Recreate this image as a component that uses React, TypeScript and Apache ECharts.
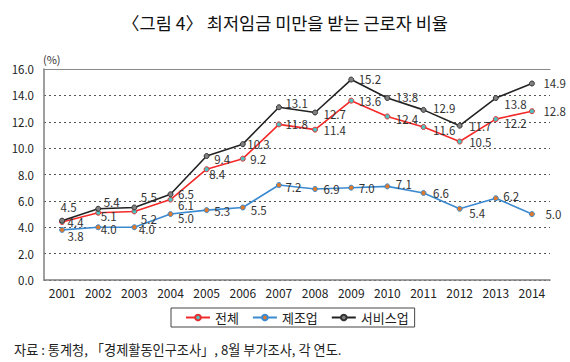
import React, { useEffect, useRef } from "react";
import * as echarts from "echarts";

const years = ["2001","2002","2003","2004","2005","2006","2007","2008","2009","2010","2011","2012","2013","2014"];
const total = [4.4, 5.1, 5.2, 6.1, 8.4, 9.2, 11.8, 11.4, 13.6, 12.4, 11.6, 10.5, 12.2, 12.8];
const manufacturing = [3.8, 4.0, 4.0, 5.0, 5.3, 5.5, 7.2, 6.9, 7.0, 7.1, 6.6, 5.4, 6.2, 5.0];
const service = [4.5, 5.4, 5.5, 6.5, 9.4, 10.3, 13.1, 12.7, 15.2, 13.8, 12.9, 11.7, 13.8, 14.9];
const yTicks = [0, 2, 4, 6, 8, 10, 12, 14, 16];

// label placement (left edge dx, dy) relative to each point
const totalLabelOffsets = [[5,0.5],[2,3],[6,8],[7,5.5],[2,5],[7,0],[6,0],[8,0],[7,0],[8,3],[9,3],[9,0],[8,4],[11,0]];
const manuLabelOffsets = [[5,6],[2,1.5],[4,2],[7,4],[7,1],[7.5,2.5],[6,1.5],[8,0],[7,0],[8,-2],[9,0],[9,4],[7,-2.5],[13,0]];
const serviceLabelOffsets = [[-2,-13.6],[5,-7],[6,-10.7],[7,0],[7,3],[4,0],[6,-4],[8,1],[7,-1],[8,-1],[9,-2],[9,0],[8,5.5],[11,-1]];

const FONT = "'Noto Sans CJK KR', 'Noto Sans', sans-serif";

function mkSeries(name: string, values: number[], offsets: number[][], lineColor: string, markerColor: string, markerBorder: string) {
  return {
    name,
    type: "line",
    data: values.map((v, i) => ({
      value: v,
      label: { offset: [offsets[i][0] - 2.5, offsets[i][1]] },
    })),
    symbol: "circle",
    symbolSize: 5,
    lineStyle: { color: lineColor, width: 1.6 },
    itemStyle: { color: markerColor, borderColor: markerBorder, borderWidth: 1 },
    label: {
      show: true,
      position: "right",
      distance: 0,
      fontFamily: FONT,
      fontSize: 11.5,
      lineHeight: 12,
      color: "#333",
      formatter: (p: any) => Number(p.value).toFixed(1),
    },
    emphasis: { disabled: true },
    z: 3,
  };
}

export default function App() {
  const ref = useRef<HTMLDivElement>(null);
  useEffect(() => {
    if (!ref.current) return;
    const chart = echarts.init(ref.current, undefined, { renderer: "svg" });
    chart.setOption({
      animation: false,
      backgroundColor: "#fff",
      textStyle: { fontFamily: FONT },
      grid: { left: 44, right: 20, top: 69, bottom: 82 },
      xAxis: [
        {
          type: "category",
          data: years,
          boundaryGap: true,
          axisLine: { show: true, lineStyle: { color: "#7f7f7f", width: 1.5 } },
          axisTick: { show: false },
          axisLabel: { color: "#222", fontSize: 12, fontFamily: FONT, margin: 6, interval: 0 },
        },
        {
          type: "category",
          data: years,
          position: "top",
          axisLine: { show: true, lineStyle: { color: "#8a8a8a", width: 1.2 } },
          axisTick: { show: false },
          axisLabel: { show: false },
        },
      ],
      yAxis: {
        type: "value",
        min: yTicks[0],
        max: yTicks[yTicks.length - 1],
        interval: 2,
        axisLine: { show: true, lineStyle: { color: "#7f7f7f", width: 1.5 } },
        axisTick: { show: false },
        axisLabel: { color: "#222", fontSize: 11.5, fontFamily: FONT, margin: 10, formatter: (v: number) => v.toFixed(1) },
        splitLine: { show: true, lineStyle: { color: "#555", type: [2, 3], width: 1 } },
      },
      legend: {
        data: ["전체", "제조업", "서비스업"],
        left: 171,
        top: 308,
        itemWidth: 24,
        itemHeight: 7,
        itemGap: 13,
        padding: [3, 6, 3, 14],
        borderColor: "#444",
        borderWidth: 1,
        textStyle: { fontSize: 13, color: "#222", fontFamily: FONT },
      },
      graphic: [
        {
          type: "text",
          x: 285,
          y: 22,
          style: { text: "〈그림 4〉 최저임금 미만을 받는 근로자 비율", fontSize: 17.5, fontWeight: "normal", fill: "#111", fontFamily: FONT, align: "center", verticalAlign: "middle" },
        },
        {
          type: "text",
          left: 43,
          top: 53,
          style: { text: "(%)", fontSize: 11, fill: "#333", fontFamily: FONT },
        },
        {
          type: "text",
          x: 14,
          y: 349,
          style: { text: "자료 : 통계청, 「경제활동인구조사」, 8월 부가조사, 각 연도.", fontSize: 13.2, fill: "#222", fontFamily: FONT, verticalAlign: "middle" },
        },
      ],
      series: [
        mkSeries("전체", total, totalLabelOffsets, "#f42a2a", "#4fc1c1", "#e03030"),
        mkSeries("제조업", manufacturing, manuLabelOffsets, "#3b8ad0", "#e07a2a", "#3b8ad0"),
        mkSeries("서비스업", service, serviceLabelOffsets, "#222222", "#808080", "#333333"),
      ],
    });
    return () => chart.dispose();
  }, []);
  return <div ref={ref} style={{ width: 570, height: 362, position: "absolute", left: 0, top: 0 }} />;
}
